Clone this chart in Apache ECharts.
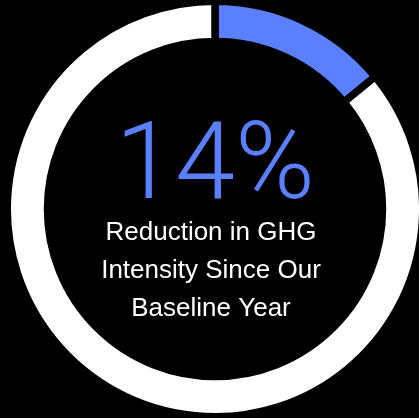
<!DOCTYPE html>
<html>
<head>
<meta charset="utf-8">
<script src="https://cdn.jsdelivr.net/npm/echarts@6/dist/echarts.min.js"></script>
<style>
html,body{margin:0;padding:0;background:#000;}
#chart{width:419px;height:418px;}
</style>
</head>
<body>
<div id="chart"></div>
<script>
const categories = ['Reduction', 'Remaining'];
const values = [14, 86];
const colors = ['#5b80ff', '#ffffff'];
const headline = '14%';
const subtitleLines = ['Reduction in GHG', 'Intensity Since Our', 'Baseline Year'];

const chart = echarts.init(document.getElementById('chart'), null, {renderer: 'canvas'});
chart.setOption({
  backgroundColor: '#000',
  animation: false,
  series: [{
    type: 'pie',
    center: [215, 209],
    radius: [167.5, 207.75],
    startAngle: 90,
    clockwise: true,
    silent: true,
    label: {show: false},
    labelLine: {show: false},
    itemStyle: {borderColor: '#000', borderWidth: 7.5},
    data: categories.map((c, i) => ({name: c, value: values[i], itemStyle: {color: colors[i]}}))
  }],
  graphic: [
    {
      type: 'text',
      x: 215, y: 171,
      style: {
        text: headline,
        fill: colors[0],
        fontFamily: 'Roboto',
        fontWeight: 300,
        fontSize: 108,
        align: 'center',
        verticalAlign: 'middle'
      }
    },
    {
      type: 'text',
      x: 211, y: 271,
      style: {
        text: subtitleLines.join('\n'),
        fill: '#fff',
        fontFamily: 'Liberation Sans',
        fontSize: 26,
        lineHeight: 38,
        align: 'center',
        verticalAlign: 'middle'
      }
    }
  ]
});
</script>
</body>
</html>
